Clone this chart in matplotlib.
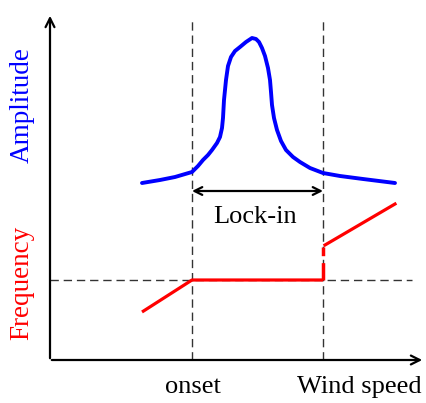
import matplotlib.pyplot as plt

plt.rcParams['font.family'] = ['Liberation Serif', 'DejaVu Serif']

# amplitude response (blue) vs wind speed
amp_x = [142, 160, 175, 192, 198, 203, 208, 212, 217, 220, 222, 223, 224, 226, 228,
         231, 235, 240, 246, 252, 256, 259, 262, 265, 268, 270, 271, 272, 274, 277,
         281, 286, 293, 300, 310, 323, 340, 363, 395]
amp_y = [220, 223, 226, 231, 237, 243, 248, 253, 260, 266, 275, 285, 303, 323, 337,
         346, 352, 356, 361, 365, 364, 361, 355, 347, 335, 323, 311, 298, 285, 273,
         262, 253, 246, 241, 235, 230, 227, 224, 220]

# shedding frequency (red): rising, locked, jump, rising again
freq_x1 = [142, 192, 323]
freq_y1 = [91, 123, 123]
jump_x = [323, 323]
jump_y = [123, 156]
freq_x2 = [325, 395]
freq_y2 = [158, 199]

onset = 192
lock_end = 323
f_struct = 123

fig = plt.figure(figsize=(4.26, 4.03), dpi=100)
ax = fig.add_axes([0, 0, 1, 1])
ax.set_xlim(0, 426)
ax.set_ylim(0, 403)
ax.axis('off')

# axes with arrows
ax.annotate('', xy=(50, 390), xytext=(50, 42),
            arrowprops=dict(arrowstyle='->', lw=1.6, color='black', mutation_scale=16))
ax.annotate('', xy=(425, 43), xytext=(49, 43),
            arrowprops=dict(arrowstyle='->', lw=1.6, color='black', mutation_scale=16))

# guide lines
dash = (0, (6, 3.5))
ax.plot([onset, onset], [43, 383], color='#333333', lw=1.0, linestyle=dash)
ax.plot([lock_end, lock_end], [43, 383], color='#333333', lw=1.0, linestyle=dash)
ax.plot([50, 412], [f_struct, f_struct], color='#333333', lw=1.0, linestyle=dash)

ax.plot(amp_x, amp_y, color='#0000ff', lw=2.8, solid_capstyle='round', solid_joinstyle='round')

ax.plot(freq_x1, freq_y1, color='#ff0000', lw=2.3, solid_capstyle='butt')
ax.plot(jump_x, jump_y, color='#ff0000', lw=2.5, linestyle=(0, (5, 2)))
ax.plot(freq_x2, freq_y2, color='#ff0000', lw=2.3)

# lock-in range
ax.annotate('', xy=(onset, 212), xytext=(lock_end, 212),
            arrowprops=dict(arrowstyle='<->', lw=1.6, color='black', mutation_scale=14,
                            shrinkA=0, shrinkB=0))
ax.text(255, 186, 'Lock-in', fontsize=19, ha='center', va='center')

ax.text(22, 298, 'Amplitude', fontsize=19.5, color='#0000ff', rotation=90,
        ha='center', va='center')
ax.text(22, 120, 'Frequency', fontsize=19.5, color='#ff0000', rotation=90,
        ha='center', va='center')
ax.text(193, 16, 'onset', fontsize=19, ha='center', va='center')
ax.text(359, 16, 'Wind speed', fontsize=19, ha='center', va='center')

fig.savefig('out.png', dpi=100)
